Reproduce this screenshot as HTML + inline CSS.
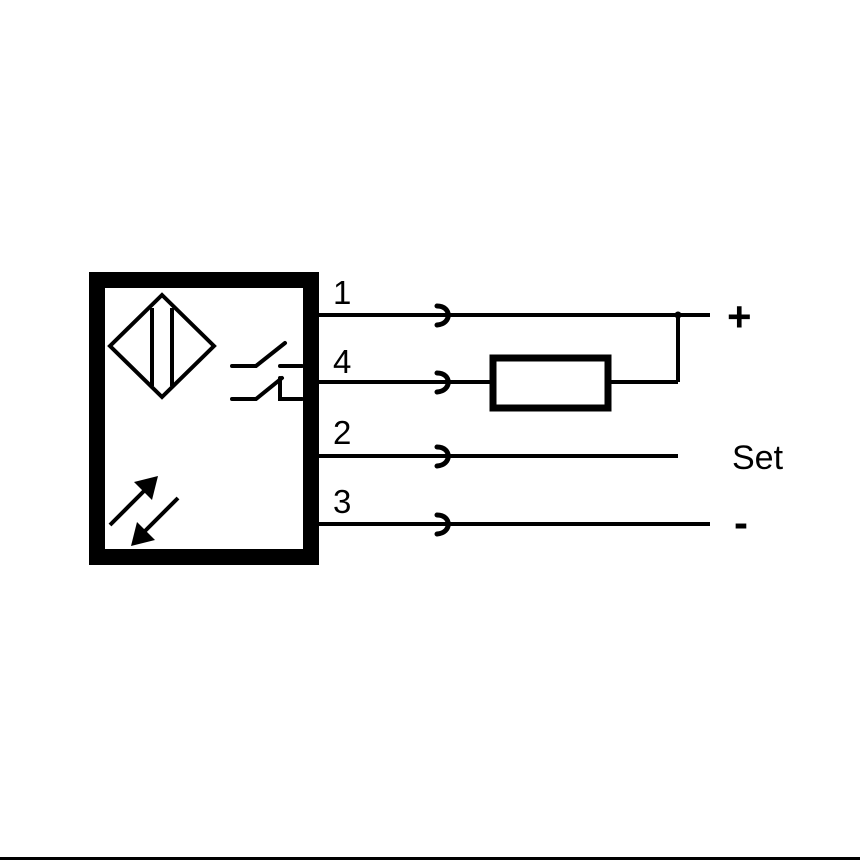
<!DOCTYPE html>
<html><head><meta charset="utf-8"><style>
html,body{margin:0;padding:0;background:#fff;}
svg{display:block;}
text{font-family:"Liberation Sans",sans-serif;fill:#000;}
</style></head><body>
<svg width="860" height="860" viewBox="0 0 860 860" xmlns="http://www.w3.org/2000/svg">
<rect x="0" y="0" width="860" height="860" fill="#fff"/>
<rect x="97" y="280" width="214" height="277" fill="none" stroke="#000" stroke-width="16"/>
<polygon points="162,295 214,346 162,397 110,346" fill="none" stroke="#000" stroke-width="4"/>
<line x1="152" y1="308" x2="152" y2="386" stroke="#000" stroke-width="4"/>
<line x1="172" y1="308" x2="172" y2="386" stroke="#000" stroke-width="4"/>
<g stroke="#000" stroke-width="4" fill="none" stroke-linecap="round">
<polyline points="232,366 256,366 285,343"/>
<line x1="280" y1="366" x2="302" y2="366"/>
<polyline points="232,399 256,399 282,378"/>
<polyline points="280,378 280,399 302,399"/>
</g>
<g stroke="#000" stroke-width="4">
<line x1="110" y1="525" x2="145" y2="490"/>
<line x1="178" y1="498" x2="144" y2="532"/>
</g>
<polygon points="158,476 152,500 134,482" fill="#000"/>
<polygon points="131,546 137,522 155,540" fill="#000"/>
<g stroke="#000" stroke-width="4" fill="none">
<line x1="318" y1="315" x2="710" y2="315"/>
<line x1="318" y1="382" x2="490" y2="382"/>
<line x1="610" y1="382" x2="678" y2="382"/>
<line x1="678" y1="315" x2="678" y2="382"/>
<line x1="318" y1="456" x2="678" y2="456"/>
<line x1="318" y1="524" x2="710" y2="524"/>
<g stroke-width="5" stroke-linecap="round">
<path d="M437,306 C452,306 452,324 437,325"/>
<path d="M437,373 C452,373 452,391 437,392"/>
<path d="M437,447 C452,447 452,465 437,466"/>
<path d="M437,515 C452,515 452,533 437,534"/>
</g>
<rect x="493" y="358" width="115" height="50" stroke-width="7"/>
</g>
<circle cx="678" cy="315" r="3.5" fill="#000"/>
<text x="333" y="304" font-size="33">1</text>
<text x="333" y="373" font-size="33">4</text>
<text x="333" y="444" font-size="33">2</text>
<text x="333" y="513" font-size="33">3</text>
<text x="727" y="331" font-size="42" font-weight="bold">+</text>
<text x="732" y="469" font-size="34">Set</text>
<text x="734" y="537" font-size="42" font-weight="bold">-</text>
<rect x="0" y="857" width="860" height="3" fill="#000"/>
</svg>
</body></html>
